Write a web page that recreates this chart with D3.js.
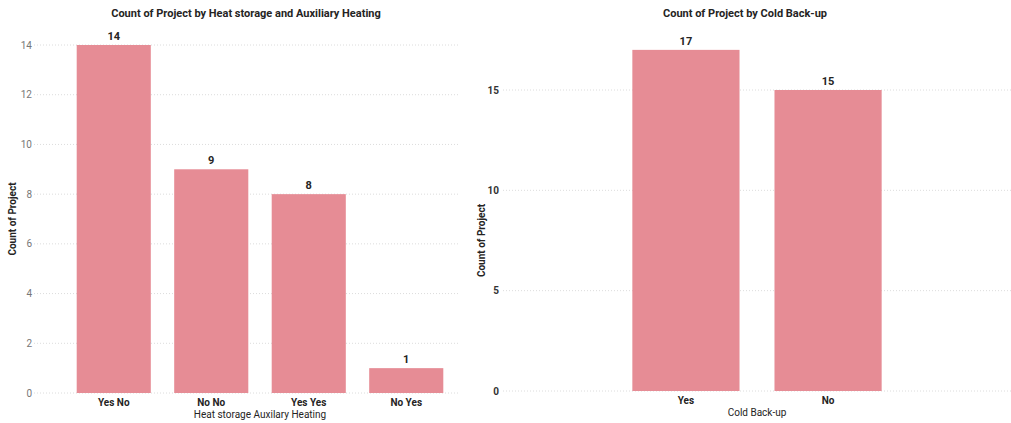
<!DOCTYPE html>
<html>
<head>
<meta charset="utf-8">
<script src="https://cdn.jsdelivr.net/npm/d3@7"></script>
<style>
  html, body { margin: 0; padding: 0; background: #fff; }
  svg { display: block; font-family: Roboto, "DejaVu Sans", sans-serif; }
</style>
</head>
<body>
<svg id="chart" width="1011" height="423"></svg>
<script>
// Left panel: heat storage / auxiliary heating combinations
const heatCategories = ["Yes No", "No No", "Yes Yes", "No Yes"];
const heatCounts = [14, 9, 8, 1];
const heatTicks = [0, 2, 4, 6, 8, 10, 12, 14];

// Right panel: cold back-up
const coldCategories = ["Yes", "No"];
const coldCounts = [17, 15];
const coldTicks = [0, 5, 10, 15];

const barColor = "#e68c95";
const svg = d3.select("#chart");

function drawPanel(cfg) {
  const g = svg.append("g");
  const x = d3.scaleBand()
    .domain(cfg.categories)
    .range([cfg.x0, cfg.x1])
    .paddingInner(cfg.padInner)
    .paddingOuter(cfg.padOuter);
  const y = d3.scaleLinear()
    .domain([0, cfg.yMax])
    .range([cfg.yBottom, cfg.yTop]);

  // dotted gridlines
  g.append("g").selectAll("line")
    .data(cfg.ticks)
    .join("line")
    .attr("x1", cfg.gridX0).attr("x2", cfg.gridX1)
    .attr("y1", d => y(d)).attr("y2", d => y(d))
    .attr("stroke", "#dcdcdc")
    .attr("stroke-width", 1)
    .attr("stroke-dasharray", "1,2");

  // y tick labels
  g.append("g").selectAll("text")
    .data(cfg.ticks)
    .join("text")
    .attr("x", cfg.tickX)
    .attr("y", d => y(d))
    .attr("dy", "0.35em")
    .attr("text-anchor", "end")
    .attr("font-size", 10)
    .attr("font-weight", cfg.tickWeight)
    .attr("fill", cfg.tickColor)
    .text(d => d);

  // bars
  g.append("g").selectAll("rect")
    .data(cfg.values)
    .join("rect")
    .attr("x", (d, i) => x(cfg.categories[i]))
    .attr("width", x.bandwidth())
    .attr("y", d => y(d))
    .attr("height", d => y(0) - y(d))
    .attr("fill", barColor);

  // value labels
  g.append("g").selectAll("text")
    .data(cfg.values)
    .join("text")
    .attr("x", (d, i) => x(cfg.categories[i]) + x.bandwidth() / 2)
    .attr("y", d => y(d) - 5)
    .attr("text-anchor", "middle")
    .attr("font-size", 11)
    .attr("font-weight", "bold")
    .attr("fill", "#252423")
    .text(d => d);

  // category labels
  g.append("g").selectAll("text")
    .data(cfg.categories)
    .join("text")
    .attr("x", d => x(d) + x.bandwidth() / 2)
    .attr("y", cfg.yBottom + 13)
    .attr("text-anchor", "middle")
    .attr("font-size", 10)
    .attr("font-weight", "bold")
    .attr("fill", "#252423")
    .text(d => d);

  // x axis title
  g.append("text")
    .attr("x", (cfg.x0 + cfg.x1) / 2)
    .attr("y", cfg.yBottom + 25)
    .attr("text-anchor", "middle")
    .attr("font-size", 10)
    .attr("fill", "#252423")
    .text(cfg.xTitle);

  // y axis title
  g.append("text")
    .attr("transform", `translate(${cfg.yTitleX},${(cfg.yTop + cfg.yBottom) / 2}) rotate(-90)`)
    .attr("text-anchor", "middle")
    .attr("font-size", 10)
    .attr("font-weight", "bold")
    .attr("fill", "#252423")
    .text("Count of Project");

  // chart title
  g.append("text")
    .attr("x", cfg.titleX)
    .attr("y", 17)
    .attr("text-anchor", "middle")
    .attr("font-size", 11)
    .attr("font-weight", "bold")
    .attr("fill", "#252423")
    .text(cfg.title);
}

drawPanel({
  categories: heatCategories, values: heatCounts, ticks: heatTicks, yMax: 14,
  x0: 65, x1: 455, padInner: 0.24, padOuter: 0.12,
  yTop: 45, yBottom: 393, gridX0: 34, gridX1: 460,
  tickX: 32, tickColor: "#777", tickWeight: "normal",
  yTitleX: 16, titleX: 246,
  title: "Count of Project by Heat storage and Auxiliary Heating",
  xTitle: "Heat storage Auxilary Heating"
});

drawPanel({
  categories: coldCategories, values: coldCounts, ticks: coldTicks, yMax: 15,
  x0: 503, x1: 1011, padInner: 0.246, padOuter: 0.91,
  yTop: 90, yBottom: 391, gridX0: 503, gridX1: 1011,
  tickX: 499, tickColor: "#333", tickWeight: "bold",
  yTitleX: 485, titleX: 745,
  title: "Count of Project by Cold Back-up",
  xTitle: "Cold Back-up"
});
</script>
</body>
</html>
